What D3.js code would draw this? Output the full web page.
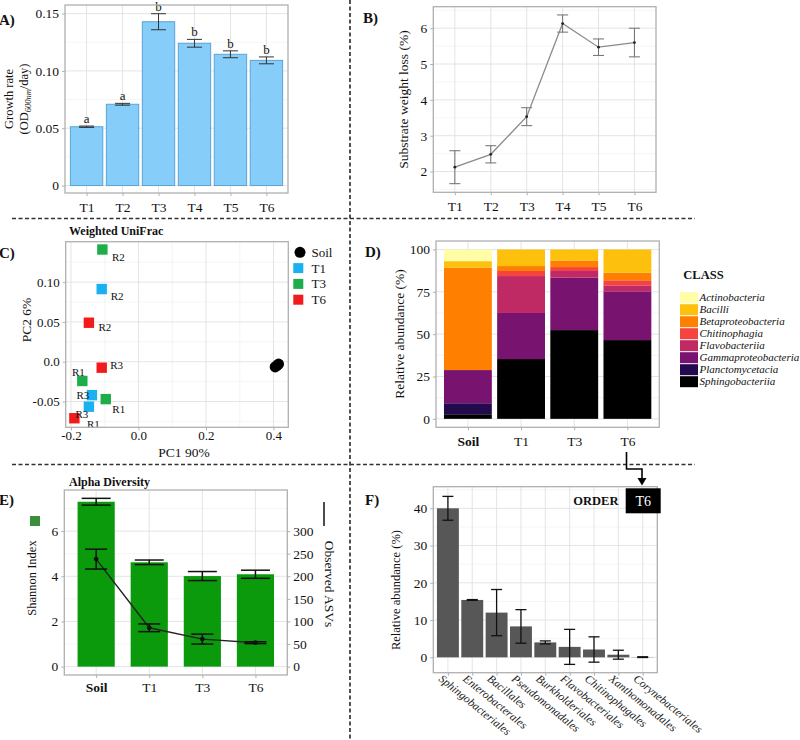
<!DOCTYPE html>
<html><head><meta charset="utf-8">
<script src="https://cdn.jsdelivr.net/npm/d3@7"></script>
<style>body{margin:0;background:#fff}svg{display:block}</style>
</head><body><svg id="c" width="800" height="740"></svg>
<script>
// ---------------- DATA ----------------
// A) growth rate
const growthCats = ["T1","T2","T3","T4","T5","T6"];
const growthRate = [0.0513,0.0709,0.1429,0.1241,0.1145,0.1092];
const growthErr  = [0.0006,0.0008,0.0070,0.0034,0.0030,0.0030];
const growthLetters = ["a","a","b","b","b","b"];
const growthTicks = [0,0.05,0.10,0.15];
// B) substrate weight loss
const weightLoss = [2.12,2.48,3.53,6.13,5.47,5.60];
const weightErr  = [0.46,0.24,0.25,0.24,0.23,0.40];
const weightTicks = [2,3,4,5,6];
// C) PCoA weighted UniFrac
const pcoaGroups = ["Soil","T1","T3","T6"];
const pcoaGroup = ["T3","T1","T6","T6","T3","T1","T3","T1","T6","Soil","Soil","Soil"];
const pcoaRep   = ["R2","R2","R2","R3","R1","R3","R1","R3","R1","","",""];
const pcoaPC1   = [-0.107,-0.109,-0.147,-0.109,-0.1665,-0.138,-0.097,-0.147,-0.190,0.405,0.410,0.415];
const pcoaPC2   = [0.141,0.0913,0.049,-0.0075,-0.0242,-0.042,-0.047,-0.0565,-0.071,-0.0065,-0.005,-0.003];
const pcoaLabelNudge = [[16,8],[15.5,7],[16,4.5],[15,-3],[-4,-8.5],[-9,0],[13,10],[-7,7.5],[19,5.5],[0,0],[0,0],[0,0]];
const pcoaXTicks = [-0.2,0,0.2,0.4];
const pcoaYTicks = [-0.05,0,0.05,0.10];
// D) class composition
const classNames = ["Actinobacteria","Bacilli","Betaproteobacteria","Chitinophagia","Flavobacteriia","Gammaproteobacteria","Planctomycetacia","Sphingobacteriia"];
const classSamples = ["Soil","T1","T3","T6"];
const classSoil = [6.9,3.9,60.4,0,0,19.6,6.5,2.7];
const classT1   = [0,9.8,2.9,3.0,21.8,27.2,0,35.3];
const classT3   = [0,6.5,3.9,2.3,4.0,30.9,0,52.4];
const classT6   = [0,13.7,4.5,3.0,3.5,28.8,0,46.5];
const classColors = ["#FFFDA6","#FDC00C","#FF7F00","#F5443F","#C02A64","#781470","#230A4F","#000000"];
const classTicks = [0,25,50,75,100];
// E) alpha diversity
const alphaSamples = ["Soil","T1","T3","T6"];
const shannon    = [7.30,4.62,4.01,4.09];
const shannonErr = [0.15,0.10,0.20,0.18];
const observed   = [238,86,61,53];
const observedErr= [22,8.5,11,2];
const shannonTicks = [0,2,4,6];
const observedTicks = [0,50,100,150,200,250,300];
// F) order abundance T6
const orders = ["Sphingobacteriales","Enterobacterales","Bacillales","Pseudomonadales","Burkholderiales","Flavobacteriales","Chitinophagales","Xanthomonadales","Corynebacteriales"];
const orderAbund = [40.0,15.4,12.0,8.3,4.0,2.8,2.1,0.7,0.05];
const orderErr   = [3.2,0.1,6.2,4.5,0.4,4.7,3.4,1.2,0.1];
const orderTicks = [0,10,20,30,40];

// ---------------- HELPERS ----------------
const FONT = '"Liberation Serif","Times New Roman",serif';
const GMAJ = "#e1e1e1", GMIN = "#efefef", BORDER = "#b0b0b0";
const svg = d3.select("#c").attr("font-family", FONT);

function txt(x, y, s, o = {}) {
  const t = svg.append("text").attr("x", x).attr("y", y).text(s)
    .attr("font-size", o.size || 13).attr("fill", o.fill || "#111")
    .attr("text-anchor", o.anchor || "start");
  if (o.bold) t.attr("font-weight", "bold");
  if (o.italic) t.attr("font-style", "italic");
  if (o.rot) t.attr("transform", `rotate(${o.rot},${x},${y})`);
  return t;
}
function hline(g, x0, x1, y, c, w) { g.append("line").attr("x1", x0).attr("x2", x1).attr("y1", y).attr("y2", y).attr("stroke", c).attr("stroke-width", w); }
function vline(g, x, y0, y1, c, w) { g.append("line").attr("x1", x).attr("x2", x).attr("y1", y0).attr("y2", y1).attr("stroke", c).attr("stroke-width", w); }
function grid(x0, x1, y0, y1, vx, vxm, hy, hym) {
  const g = svg.append("g");
  hym.forEach(y => hline(g, x0, x1, y, GMIN, 0.6));
  vxm.forEach(x => vline(g, x, y0, y1, GMIN, 0.6));
  hy.forEach(y => hline(g, x0, x1, y, GMAJ, 0.9));
  vx.forEach(x => vline(g, x, y0, y1, GMAJ, 0.9));
}
function border(x0, x1, y0, y1) {
  svg.append("rect").attr("x", x0).attr("y", y0).attr("width", x1 - x0).attr("height", y1 - y0)
    .attr("fill", "none").attr("stroke", BORDER).attr("stroke-width", 1.3);
}
function styleAxis(g, fs) {
  g.select(".domain").remove();
  g.attr("font-family", FONT).attr("font-size", fs);
  g.selectAll(".tick line").attr("stroke", BORDER).attr("stroke-width", 1);
  g.selectAll(".tick text").attr("fill", "#111");
  return g;
}
function axisL(scale, x, vals, fmt, fs = 13.5) {
  return styleAxis(svg.append("g").attr("transform", `translate(${x},0)`)
    .call(d3.axisLeft(scale).tickValues(vals).tickFormat(fmt).tickSize(3).tickPadding(3)), fs);
}
function axisR(scale, x, vals, fmt, fs = 13.5) {
  return styleAxis(svg.append("g").attr("transform", `translate(${x},0)`)
    .call(d3.axisRight(scale).tickValues(vals).tickFormat(fmt).tickSize(3).tickPadding(3)), fs);
}
function axisB(scale, y, vals, fmt, fs = 13.5, pad = 5) {
  const a = d3.axisBottom(scale).tickSize(3).tickPadding(pad);
  if (vals) a.tickValues(vals);
  if (fmt) a.tickFormat(fmt);
  return styleAxis(svg.append("g").attr("transform", `translate(0,${y})`).call(a), fs);
}
function errbar(g, x, yLo, yHi, w, c, sw) {
  vline(g, x, yLo, yHi, c, sw);
  hline(g, x - w / 2, x + w / 2, yLo, c, sw);
  hline(g, x - w / 2, x + w / 2, yHi, c, sw);
}
const signed = (d, n) => (d < 0 ? "-" : "") + Math.abs(d).toFixed(n);

// ---------------- DIVIDERS ----------------
const div = svg.append("g").attr("stroke", "#333").attr("stroke-width", 1.7).attr("stroke-dasharray", "4,2.5");
div.append("line").attr("x1", 350).attr("x2", 350).attr("y1", 0).attr("y2", 740);
div.append("line").attr("x1", 12).attr("x2", 695).attr("y1", 218.5).attr("y2", 218.5);
div.append("line").attr("x1", 12).attr("x2", 695).attr("y1", 464.5).attr("y2", 464.5);

// ---------------- PANEL A ----------------
{
  const X0 = 65, X1 = 288, Y0 = 5, Y1 = 193;
  const x = d3.scalePoint().domain(growthCats).range([X0, X1]).padding(0.6);
  const y = d3.scaleLinear().domain([-0.0065, 0.1575]).range([Y1, Y0]);
  grid(X0, X1, Y0, Y1, growthCats.map(x), [], growthTicks.map(y), [0.025, 0.075, 0.125].map(y));
  const g = svg.append("g");
  const bw = x.step() * 0.9;
  growthCats.forEach((c, i) => {
    g.append("rect").attr("x", x(c) - bw / 2).attr("y", y(growthRate[i]))
      .attr("width", bw).attr("height", y(0) - y(growthRate[i]))
      .attr("fill", "#86CDF9").attr("stroke", "#5aa3d6").attr("stroke-width", 1);
    errbar(g, x(c), y(growthRate[i] - growthErr[i]), y(growthRate[i] + growthErr[i]), 15, "#333", 1);
    txt(x(c), y(growthRate[i] + growthErr[i]) - 3, growthLetters[i], { size: 13, anchor: "middle" });
  });
  border(X0, X1, Y0, Y1);
  axisL(y, X0, growthTicks, d => d === 0 ? "0" : d.toFixed(2));
  axisB(x, Y1, null, null, 13.5, 6);
  txt(13, 99, "Growth rate", { size: 12.5, anchor: "middle", rot: -90 });
  const t2 = svg.append("text").attr("x", 28).attr("y", 99).attr("font-size", 12.5).attr("fill", "#111")
    .attr("text-anchor", "middle").attr("transform", "rotate(-90,28,99)");
  t2.append("tspan").text("(OD");
  t2.append("tspan").attr("dy", 3).attr("font-size", 8.5).attr("font-style", "italic").text("600nm");
  t2.append("tspan").attr("dy", -3).text("/day)");
  txt(-1, 25, "A)", { size: 15, bold: true });
}

// ---------------- PANEL B ----------------
{
  const X0 = 433.3, X1 = 656, Y0 = 6.7, Y1 = 192.3;
  const x = d3.scalePoint().domain(growthCats).range([X0, X1]).padding(0.6);
  const y = d3.scaleLinear().domain([1.42, 6.6]).range([Y1, Y0]);
  grid(X0, X1, Y0, Y1, growthCats.map(x), [], weightTicks.map(y), [1.5, 2.5, 3.5, 4.5, 5.5, 6.5].map(y));
  const g = svg.append("g");
  growthCats.forEach((c, i) => errbar(g, x(c), y(weightLoss[i] - weightErr[i]), y(weightLoss[i] + weightErr[i]), 11, "#6e6e6e", 1));
  g.append("path").datum(weightLoss)
    .attr("d", d3.line().x((d, i) => x(growthCats[i])).y(d => y(d)))
    .attr("fill", "none").attr("stroke", "#8a8a8a").attr("stroke-width", 1.3);
  growthCats.forEach((c, i) => g.append("circle").attr("cx", x(c)).attr("cy", y(weightLoss[i])).attr("r", 1.4).attr("fill", "#222"));
  border(X0, X1, Y0, Y1);
  axisL(y, X0, weightTicks, d => d);
  axisB(x, Y1, null, null, 13.5, 6);
  txt(408, 99.5, "Substrate weight loss (%)", { size: 13.5, anchor: "middle", rot: -90 });
  txt(363, 23, "B)", { size: 15, bold: true });
}

// ---------------- PANEL C ----------------
{
  const X0 = 65.7, X1 = 288.3, Y0 = 241.7, Y1 = 427.3;
  const x = d3.scaleLinear().domain([-0.2157, 0.4439]).range([X0, X1]);
  const y = d3.scaleLinear().domain([-0.0824, 0.1508]).range([Y1, Y0]);
  const col = d3.scaleOrdinal().domain(pcoaGroups).range(["#000000", "#1BB1F0", "#1DAE4B", "#F21B1B"]);
  grid(X0, X1, Y0, Y1, pcoaXTicks.map(x), [-0.1, 0.1, 0.3].map(x), pcoaYTicks.map(y), [-0.075, -0.025, 0.025, 0.075, 0.125].map(y));
  const g = svg.append("g");
  pcoaPC1.forEach((v, i) => {
    const cx = x(v), cy = y(pcoaPC2[i]);
    if (pcoaGroup[i] === "Soil") g.append("circle").attr("cx", cx).attr("cy", cy).attr("r", 5.5).attr("fill", "#000");
    else g.append("rect").attr("x", cx - 5.2).attr("y", cy - 5.2).attr("width", 10.4).attr("height", 10.4).attr("fill", col(pcoaGroup[i]));
  });
  pcoaPC1.forEach((v, i) => {
    if (!pcoaRep[i]) return;
    g.append("text").attr("x", x(v) + pcoaLabelNudge[i][0]).attr("y", y(pcoaPC2[i]) + pcoaLabelNudge[i][1] + 4)
      .attr("text-anchor", "middle").attr("font-size", 11).attr("fill", "#111").text(pcoaRep[i]);
  });
  border(X0, X1, Y0, Y1);
  axisL(y, X0, pcoaYTicks, d => d === 0 ? "0.0" : signed(d, 2), 13);
  axisB(x, Y1, pcoaXTicks, d => signed(d, 1), 13, 0);
  txt(31, 320, "PC2 6%", { size: 13.5, anchor: "middle", rot: -90 });
  txt(184, 457, "PC1 90%", { size: 13.5, anchor: "middle" });
  txt(69, 235, "Weighted UniFrac", { size: 12, bold: true });
  // legend
  pcoaGroups.forEach((gname, i) => {
    const ly = 252.3 + i * 15.8;
    if (gname === "Soil") svg.append("circle").attr("cx", 300).attr("cy", ly).attr("r", 5.5).attr("fill", "#000");
    else svg.append("rect").attr("x", 293.3).attr("y", ly - 5).attr("width", 10).attr("height", 10).attr("fill", col(gname));
    txt(311.5, ly + 4.5, gname, { size: 13 });
  });
  txt(-1, 258, "C)", { size: 15, bold: true });
}

// ---------------- PANEL D ----------------
{
  const X0 = 436, X1 = 659.3, Y0 = 241, Y1 = 427.3;
  const x = d3.scalePoint().domain(classSamples).range([X0, X1]).padding(0.6);
  const y = d3.scaleLinear().domain([-5, 105]).range([Y1, Y0]);
  grid(X0, X1, Y0, Y1, classSamples.map(x), [], classTicks.map(y), [12.5, 37.5, 62.5, 87.5].map(y));
  const rows = [classSoil, classT1, classT3, classT6];
  const g = svg.append("g");
  const bw = x.step() * 0.9;
  classSamples.forEach((s, j) => {
    let acc = 0;
    for (let k = classNames.length - 1; k >= 0; k--) {
      const v = rows[j][k];
      if (v > 0) g.append("rect").attr("x", x(s) - bw / 2).attr("y", y(acc + v)).attr("width", bw)
        .attr("height", y(acc) - y(acc + v)).attr("fill", classColors[k]);
      acc += v;
    }
  });
  border(X0, X1, Y0, Y1);
  axisL(y, X0, classTicks, d => d, 13.5);
  const ax = axisB(x, Y1, null, null, 13.5, 6);
  ax.selectAll(".tick text").filter(d => d === "Soil").attr("font-weight", "bold");
  txt(404, 334, "Relative abundance (%)", { size: 13.5, anchor: "middle", rot: -90 });
  txt(683.3, 279, "CLASS", { size: 12.5, bold: true });
  classNames.forEach((c, k) => {
    const ly = 291.7 + k * 12;
    svg.append("rect").attr("x", 680).attr("y", ly + 0.5).attr("width", 18).attr("height", 11).attr("fill", classColors[k]);
    txt(699.5, ly + 9.5, c, { size: 11, italic: true });
  });
  txt(365, 257, "D)", { size: 15, bold: true });
}

// ---------------- PANEL E ----------------
{
  const X0 = 64.3, X1 = 287.3, Y0 = 490, Y1 = 675;
  const x = d3.scalePoint().domain(alphaSamples).range([X0, X1]).padding(0.6);
  const y = d3.scaleLinear().domain([-0.37, 7.82]).range([Y1, Y0]);
  const y2 = d3.scaleLinear().domain([-18.5, 391]).range([Y1, Y0]);
  grid(X0, X1, Y0, Y1, alphaSamples.map(x), [], shannonTicks.map(y), [1, 3, 5, 7].map(y));
  const g = svg.append("g");
  const bw = x.step() * 0.7;
  alphaSamples.forEach((s, i) => {
    g.append("rect").attr("x", x(s) - bw / 2).attr("y", y(shannon[i])).attr("width", bw)
      .attr("height", y(0) - y(shannon[i])).attr("fill", "#0B9A0B");
    errbar(g, x(s), y(shannon[i] - shannonErr[i]), y(shannon[i] + shannonErr[i]), 29, "#111", 1.5);
  });
  g.append("path").datum(observed)
    .attr("d", d3.line().x((d, i) => x(alphaSamples[i])).y(d => y2(d)))
    .attr("fill", "none").attr("stroke", "#222").attr("stroke-width", 1.4);
  alphaSamples.forEach((s, i) => {
    errbar(g, x(s), y2(observed[i] - observedErr[i]), y2(observed[i] + observedErr[i]), 22, "#111", 1.5);
    g.append("circle").attr("cx", x(s)).attr("cy", y2(observed[i])).attr("r", 2.4).attr("fill", "#111");
  });
  border(X0, X1, Y0, Y1);
  axisL(y, X0, shannonTicks, d => d, 13.5);
  axisR(y2, X1, observedTicks, d => d, 13.5);
  const ax = axisB(x, Y1, null, null, 13.5, 4);
  ax.selectAll(".tick text").filter(d => d === "Soil").attr("font-weight", "bold");
  svg.append("rect").attr("x", 30).attr("y", 516).attr("width", 10).attr("height", 10).attr("fill", "#3a8f3a");
  txt(36, 578, "Shannon Index", { size: 12.5, anchor: "middle", rot: -90 });
  vline(svg, 324, 502, 526, "#111", 1.5);
  txt(325, 584, "Observed ASVs", { size: 13.5, anchor: "middle", rot: 90 });
  txt(69, 486, "Alpha Diversity", { size: 12, bold: true });
  txt(-1, 505, "E)", { size: 15, bold: true });
}

// ---------------- PANEL F ----------------
{
  const X0 = 433.3, X1 = 657.3, Y0 = 486.7, Y1 = 672.7;
  const x = d3.scalePoint().domain(orders).range([X0, X1]).padding(0.6);
  const y = d3.scaleLinear().domain([-4.13, 45.8]).range([Y1, Y0]);
  grid(X0, X1, Y0, Y1, orders.map(x), [], orderTicks.map(y), [5, 15, 25, 35, 45].map(y));
  const g = svg.append("g");
  const bw = x.step() * 0.9;
  orders.forEach((o, i) => {
    g.append("rect").attr("x", x(o) - bw / 2).attr("y", y(orderAbund[i])).attr("width", bw)
      .attr("height", y(0) - y(orderAbund[i])).attr("fill", "#575757");
    errbar(g, x(o), y(orderAbund[i] - orderErr[i]), y(orderAbund[i] + orderErr[i]), 11, "#111", 1.3);
  });
  border(X0, X1, Y0, Y1);
  axisL(y, X0, orderTicks, d => d, 13.5);
  axisB(x, Y1, null, () => "", 12);
  orders.forEach(o => {
    const bx = x(o) - 10, by = 680;
    txt(bx, by, o, { size: 11.5, italic: true, fill: "#222", rot: 39 });
  });
  txt(400, 590, "Relative abundance (%)", { size: 12.5, anchor: "middle", rot: -90 });
  txt(618.5, 505, "ORDER", { size: 12.5, bold: true, anchor: "end" });
  svg.append("rect").attr("x", 625.7).attr("y", 488.3).attr("width", 35).attr("height", 25).attr("fill", "#000");
  txt(643.2, 506, "T6", { size: 14, fill: "#fff", anchor: "middle" });
  txt(365, 505, "F)", { size: 15, bold: true });
  // arrow from D to F
  svg.append("path").attr("d", "M626.5,452 V469 H642 V480").attr("fill", "none").attr("stroke", "#000").attr("stroke-width", 1.6);
  svg.append("path").attr("d", "M637.5,478 L646.5,478 L642,485.5 Z").attr("fill", "#000");
}
</script></body></html>
